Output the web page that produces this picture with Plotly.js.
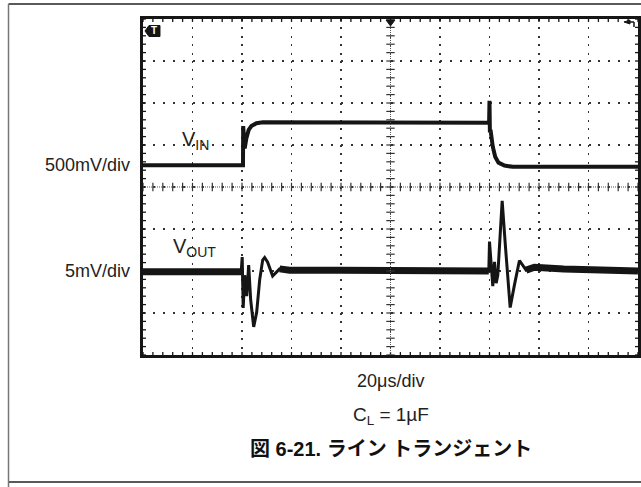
<!DOCTYPE html>
<html>
<head>
<meta charset="utf-8">
<script src="https://cdn.plot.ly/plotly-3.0.1.min.js"></script>
<style>html,body{margin:0;padding:0;background:#fff;}#chart{width:641px;height:487px;}</style>
</head>
<body>
<div id="chart"></div>
<script>
// Time axis in microseconds (20 µs/div, 10 divisions); vertical axis in scope divisions (8 divisions)
const vinT = [0, 40.40, 40.48, 40.89, 41.09, 41.77, 42.70, 43.79, 45.81, 48.47, 80, 120, 139.84, 140.00, 140.16, 140.40, 140.69, 141.33, 142.30, 143.63, 146.05, 149.40, 170, 200];
const vinV = [4.52, 4.52, 5.45, 4.93, 4.92, 5.16, 5.36, 5.45, 5.52, 5.54, 5.53, 5.53, 5.53, 6.05, 5.30, 5.36, 5.24, 4.96, 4.72, 4.58, 4.51, 4.48, 4.48, 4.48];

const voutT = [0, 20, 39.68, 40.08, 40.48, 41.09, 41.89, 42.70, 43.51, 44.72, 45.93, 47.14, 48.35, 49.15, 50.36, 52.38, 55.20, 59.23, 80, 100, 120, 139.72, 140.00, 141.33, 142.02, 142.70, 143.35, 145.12, 146.45, 148.35, 150.08, 152.10, 154.80, 158.15, 170, 185, 200];
const voutV = [1.98, 1.98, 1.98, 2.33, 1.12, 1.90, 1.40, 2.14, 1.31, 0.67, 1.02, 1.79, 2.26, 2.32, 2.21, 1.88, 2.05, 2.02, 2.02, 2.01, 2.00, 2.00, 2.70, 1.64, 2.22, 1.71, 1.90, 3.67, 2.58, 1.13, 1.67, 2.25, 2.02, 2.09, 2.05, 2.02, 2.00];

const channelLabels = ["500mV/div", "5mV/div"];
const traceLabels = ["V<sub>IN</sub>", "V<sub>OUT</sub>"];
const timeLabel = "20μs/div";
const condLabel = "C<sub>L</sub> = 1µF";
const figTitle = "<b>図 6-21. ライン トランジェント</b>";

const X_RANGE = [0, 200], Y_RANGE = [0, 8];
const INK = '#151515';

// quiet (noise-band) portions of VOUT: the flat baseline segments
const quietV = voutV.map((v, i) => {
  const t = voutT[i];
  return (t <= 39.7 || (t >= 55 && t <= 139.8) || t >= 154) ? v : null;
});

const traces = [
  {x: voutT, y: quietV, mode: 'lines', line: {color: INK, width: 7}, connectgaps: false, hoverinfo: 'skip'},
  {x: voutT, y: voutV, mode: 'lines', line: {color: INK, width: 3}, hoverinfo: 'skip'},
  {x: vinT, y: vinV, mode: 'lines', line: {color: INK, width: 4}, hoverinfo: 'skip'}
];

// graticule furniture: ticks on frame and centre cross
const shapes = [];
const xMinor = 4, yMinor = 0.2;
const fx = 1.2, fy = 0.07;      // frame tick length (data units ~3px)
const cx = 1.7, cy = 0.1;       // centre tick half-length
for (let k = 0; k <= 50; k++) {
  const t = k * xMinor;
  shapes.push({type: 'line', x0: t, x1: t, y0: 0, y1: fy, line: {color: INK, width: 1.3}});
  shapes.push({type: 'line', x0: t, x1: t, y0: 8 - fy, y1: 8, line: {color: INK, width: 1.3}});
  shapes.push({type: 'line', x0: t, x1: t, y0: 4 - cy, y1: 4 + cy, line: {color: '#333', width: 1.2}});
}
for (let k = 0; k <= 40; k++) {
  const v = k * yMinor;
  shapes.push({type: 'line', x0: 0, x1: fx, y0: v, y1: v, line: {color: INK, width: 1.3}});
  shapes.push({type: 'line', x0: 200 - fx, x1: 200, y0: v, y1: v, line: {color: INK, width: 1.3}});
  shapes.push({type: 'line', x0: 100 - cx, x1: 100 + cx, y0: v, y1: v, line: {color: '#333', width: 1.2}});
}
shapes.push({type: 'line', x0: 0, x1: 200, y0: 4, y1: 4, line: {color: '#555', width: 1, dash: '1px,1px'}});
shapes.push({type: 'line', x0: 100, x1: 100, y0: 0, y1: 8, line: {color: '#555', width: 1, dash: '1px,1px'}});

// page border (paper coords)
const pL = -0.2717, pT = 1.0446, pB = -0.378, pR = 1.02;
shapes.push({type: 'line', xref: 'paper', yref: 'paper', x0: pL, x1: pR, y0: pT, y1: pT, line: {color: '#222', width: 1.5}});
shapes.push({type: 'line', xref: 'paper', yref: 'paper', x0: pL, x1: pR, y0: pB, y1: pB, line: {color: '#222', width: 1.5}});
shapes.push({type: 'line', xref: 'paper', yref: 'paper', x0: pL, x1: pL, y0: pT, y1: -0.40, line: {color: '#777', width: 1.5}});

// trigger markers
shapes.push({type: 'path', xref: 'paper', yref: 'paper',
  path: 'M0.004,0.9643 L0.0121,0.9807 L0.0343,0.9807 L0.0343,0.9479 L0.0121,0.9479 Z',
  fillcolor: INK, line: {color: INK, width: 1}});
shapes.push({type: 'path', xref: 'paper', yref: 'paper',
  path: 'M0.491,0.9970 L0.509,0.9970 L0.5,0.9792 Z', fillcolor: INK, line: {color: INK, width: 1}});
shapes.push({type: 'path', xref: 'paper', yref: 'paper',
  path: 'M0.9717,0.9911 L0.9838,0.9970 L0.9838,0.9851 Z', fillcolor: INK, line: {color: INK, width: 1}});
shapes.push({type: 'line', xref: 'paper', yref: 'paper', x0: 0.9838, x1: 0.9919, y0: 0.9911, y1: 0.9911, line: {color: INK, width: 1.5}});
shapes.push({type: 'line', xref: 'paper', yref: 'paper', x0: 0.9919, x1: 0.9919, y0: 0.9911, y1: 0.9762, line: {color: INK, width: 1.5}});

const FONT = 'Liberation Sans, Arial, Helvetica, sans-serif';
const annotations = [
  {text: channelLabels[0], xref: 'paper', yref: 'y', x: -0.0222, y: 4.52, xanchor: 'right', yanchor: 'middle', showarrow: false, font: {family: FONT, size: 18, color: '#222'}},
  {text: channelLabels[1], xref: 'paper', yref: 'y', x: -0.0222, y: 1.99, xanchor: 'right', yanchor: 'middle', showarrow: false, font: {family: FONT, size: 18, color: '#222'}},
  {text: traceLabels[0], xref: 'paper', yref: 'y', x: 0.074, y: 5.1, xanchor: 'left', yanchor: 'middle', showarrow: false, font: {family: FONT, size: 20, color: '#222'}},
  {text: traceLabels[1], xref: 'paper', yref: 'y', x: 0.056, y: 2.55, xanchor: 'left', yanchor: 'middle', showarrow: false, font: {family: FONT, size: 20, color: '#222'}},
  {text: '<b>T</b>', xref: 'paper', yref: 'paper', x: 0.0232, y: 0.9643, xanchor: 'center', yanchor: 'middle', showarrow: false, font: {family: FONT, size: 10, color: '#fff'}},
  {text: timeLabel, xref: 'paper', yref: 'paper', x: 0.5, y: -0.0774, xanchor: 'center', yanchor: 'middle', showarrow: false, font: {family: FONT, size: 18, color: '#222'}},
  {text: condLabel, xref: 'paper', yref: 'paper', x: 0.5, y: -0.1815, xanchor: 'center', yanchor: 'middle', showarrow: false, font: {family: FONT, size: 19, color: '#222'}},
  {text: figTitle, xref: 'paper', yref: 'paper', x: 0.5, y: -0.2798, xanchor: 'center', yanchor: 'middle', showarrow: false, font: {family: 'Liberation Sans, Noto Sans CJK JP, sans-serif', size: 20, color: '#111'}}
];

const layout = {
  width: 641, height: 487,
  margin: {l: 143, r: 3, t: 19, b: 132, pad: 0},
  paper_bgcolor: '#fff', plot_bgcolor: '#fff',
  showlegend: false,
  xaxis: {range: X_RANGE, tick0: 0, dtick: 20, showgrid: true, gridcolor: '#333', gridwidth: 1.5, griddash: '2px,6.4px',
    showline: true, linecolor: INK, linewidth: 3, mirror: true, ticks: '', showticklabels: false, zeroline: false, fixedrange: true},
  yaxis: {range: Y_RANGE, tick0: 0, dtick: 1, showgrid: true, gridcolor: '#333', gridwidth: 1.5, griddash: '2px,7.9px',
    showline: true, linecolor: INK, linewidth: 3, mirror: true, ticks: '', showticklabels: false, zeroline: false, fixedrange: true},
  shapes: shapes,
  annotations: annotations
};

Plotly.newPlot('chart', traces, layout, {displayModeBar: false, staticPlot: true});
</script>
</body>
</html>
